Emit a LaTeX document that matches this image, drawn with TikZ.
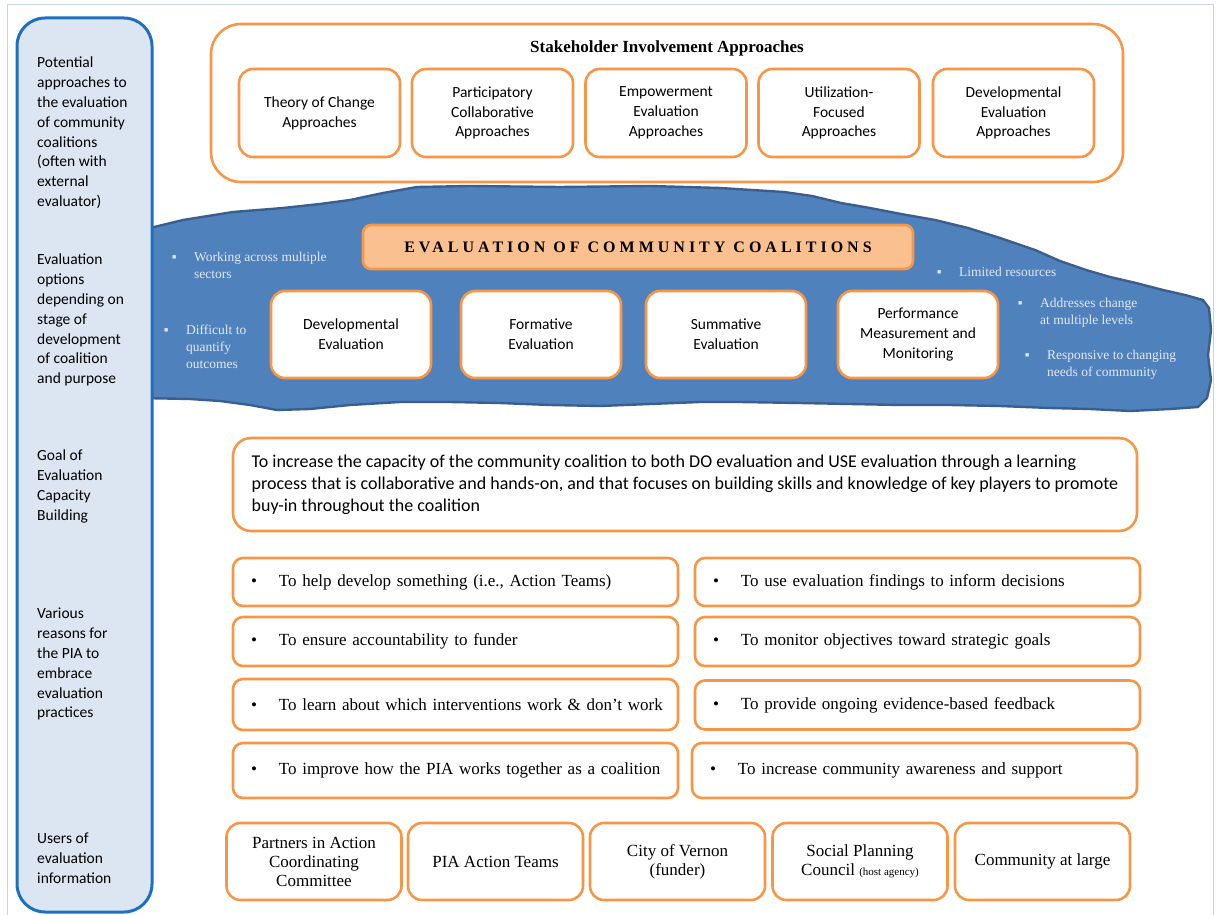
\documentclass[tikz,border=0pt]{standalone}
\usepackage{fontspec}
\setmainfont{Liberation Serif}
\newfontfamily\calibri{Carlito}
\usetikzlibrary{positioning}

\definecolor{orng}{HTML}{F79646}
\definecolor{peach}{HTML}{FAC090}
\definecolor{panelfill}{HTML}{DCE6F2}
\definecolor{paneledge}{HTML}{1F6FBF}
\definecolor{bandfill}{HTML}{4F81BD}
\definecolor{bandedge}{HTML}{3A5F8E}
\definecolor{bandtext}{HTML}{E3E8F2}
\definecolor{pageedge}{HTML}{C8D4E3}

% small square bullet item, node anchored at the bullet centre
\newcommand{\sqitem}[1]{\begin{tabular}[t]{@{}l@{}l@{}}\makebox[0pt]{▪}\hspace{20pt} & #1\end{tabular}}
% round bullet item for the reason boxes
\newcommand{\rbul}[1]{\mbox{\makebox[0pt]{\textbullet}\hspace{25pt}#1}}

\begin{document}
\begin{tikzpicture}[x=1pt,y=-1pt,line join=round]
\tikzstyle{every node}=[font=\calibri\fontsize{15.5}{19.8}\selectfont, inner sep=0pt]
\tikzstyle{orbox}=[draw=orng, line width=2.6pt, fill=white, rounded corners=14pt, align=center]
\tikzstyle{apbox}=[orbox, minimum width=161pt, minimum height=88pt]
\tikzstyle{evbox}=[orbox, minimum width=160pt, minimum height=87pt]
\tikzstyle{rowbox}=[orbox, rounded corners=10pt, text width=403pt, inner xsep=21pt, align=left, font=\fontsize{17}{19}\selectfont]
\tikzstyle{userbox}=[orbox, minimum width=175pt, minimum height=77pt, font=\fontsize{17}{19}\selectfont]
\tikzstyle{sidetxt}=[anchor=north west, align=left]
\tikzstyle{bandtxt}=[anchor=base west, text=bandtext, font=\fontsize{13.5}{17}\selectfont]

\useasboundingbox (0,0) rectangle (1218,915);
\draw[pageedge, line width=1pt] (7,915) -- (7,5) -- (1213,5) -- (1213,915);

% Blue band
\draw[fill=bandfill, draw=bandedge, line width=2.4pt]
  (140,230) -- (150,228) -- (183,220) -- (233,212) -- (283,208) -- (320,204) -- (350,200)
  -- (383,193) -- (417,187) -- (470,186) -- (560,187) -- (650,186) -- (720,188) -- (784,192)
  -- (812,196) -- (841,203) -- (870,208) -- (901,214) -- (935,220) -- (968,228) -- (1000,238)
  -- (1035,250) -- (1060,261) -- (1086,270) -- (1110,277) -- (1136,283) -- (1163,290)
  -- (1185,295) -- (1203,300) -- (1209,308) -- (1211,330) -- (1208,355) -- (1211,380)
  -- (1207,398) -- (1198,407) -- (1170,409) -- (1130,411) -- (1090,409) -- (1050,408)
  -- (1000,406) -- (950,405) -- (900,405) -- (850,404) -- (800,403) -- (740,402) -- (700,402)
  -- (650,404) -- (600,406) -- (550,405) -- (500,403) -- (450,402) -- (400,402) -- (350,405)
  -- (310,409) -- (277,410) -- (250,405) -- (220,401) -- (190,399) -- (140,398) -- cycle;

% Left panel
\draw[fill=panelfill, draw=paneledge, line width=3pt, rounded corners=28pt] (17,18) rectangle (152,912);
\node[sidetxt] (side1) at (37,57) {Potential\\approaches to\\the evaluation\\of community\\coalitions\\(often with\\external\\evaluator)};
\node[sidetxt] (side2) at (37,254) {Evaluation\\options\\depending on\\stage of\\development\\of coalition\\and purpose};
\node[sidetxt] (side3) at (37,450) {Goal of\\Evaluation\\Capacity\\Building};
\node[sidetxt] (side4) at (37,608) {Various\\reasons for\\the PIA to\\embrace\\evaluation\\practices};
\node[sidetxt] (side5) at (37,833) {Users of\\evaluation\\information};

% Stakeholder approaches
\node[orbox, minimum width=912pt, minimum height=158pt, rounded corners=30pt] (stake) at (667,103) {};
\node[font=\fontsize{17}{20}\selectfont\bfseries] (staketitle) at (667,48) {Stakeholder Involvement Approaches};
\foreach \cx/\txt [count=\i] in {319.5/{Theory of Change\\Approaches}, 492.5/{Participatory\\Collaborative\\Approaches},
    666/{Empowerment\\Evaluation\\Approaches}, 839/{Utilization-\\Focused\\Approaches}, 1013.5/{Developmental\\Evaluation\\Approaches}}
  \node[apbox] (ap\i) at (\cx,113) {\txt};

% Evaluation options
\node[orbox, fill=peach, rounded corners=8pt, minimum width=550pt, minimum height=44pt,
  font=\fontsize{16}{18}\selectfont\bfseries\addfontfeature{LetterSpace=25}] (evtitle) at (638,247)
  {EVALUATION OF COMMUNITY COALITIONS};
\foreach \cx/\txt [count=\i] in {351/{Developmental\\Evaluation}, 541/{Formative\\Evaluation},
    726/{Summative\\Evaluation}, 918/{Performance\\Measurement and\\Monitoring}}
  \node[evbox] (ev\i) at (\cx,334.5) {\txt};
\node[bandtxt] (bt1) at (174,261) {\sqitem{Working across multiple\\ & sectors}};
\node[bandtxt] (bt2) at (166,334) {\sqitem{Difficult to\\ & quantify\\ & outcomes}};
\node[bandtxt] (bt3) at (939,276) {\sqitem{Limited resources}};
\node[bandtxt] (bt4) at (1020,307) {\sqitem{Addresses change\\ & at multiple levels}};
\node[bandtxt] (bt5) at (1027,359) {\sqitem{Responsive to changing\\ & needs of community}};

% Goal
\node[orbox, rounded corners=18pt, align=left, minimum width=904pt, minimum height=93pt,
  font=\calibri\fontsize{18}{22}\selectfont] (goal) at (685,484.5)
  {To increase the capacity of the community coalition to both DO evaluation and USE evaluation through a learning\\
   process that is collaborative and hands-on, and that focuses on building skills and knowledge of key players to promote\\
   buy-in throughout the coalition};

% Reasons
\foreach \cy/\h/\txt [count=\i] in {582/48/{To help develop something (i.e., Action Teams)},
    641.5/49/{To ensure accountability to funder},
    704.5/51/{To learn about which interventions work \& don’t work},
    770.5/55/{To improve how the PIA works together as a coalition}}
  \node[rowbox, minimum height=\h pt] (rl\i) at (455.5,\cy) {\rbul{\txt}};
\foreach \cx/\cy/\h/\txt [count=\i] in {917.5/582/48/{To use evaluation findings to inform decisions},
    917.5/641.5/49/{To monitor objectives toward strategic goals},
    917.5/705/49/{To provide ongoing evidence-based feedback},
    914.5/770.5/55/{To increase community awareness and support}}
  \node[rowbox, minimum height=\h pt] (rr\i) at (\cx,\cy) {\rbul{\txt}};

% Users
\foreach \cx/\txt [count=\i] in {314/{Partners in Action\\Coordinating\\Committee}, 495.5/{PIA Action Teams},
    677.5/{City of Vernon\\(funder)}, 860/{Social Planning\\Council {\fontsize{11}{13}\selectfont(host agency)}},
    1042.5/{Community at large}}
  \node[userbox] (us\i) at (\cx,861.5) {\txt};
\end{tikzpicture}
\end{document}
